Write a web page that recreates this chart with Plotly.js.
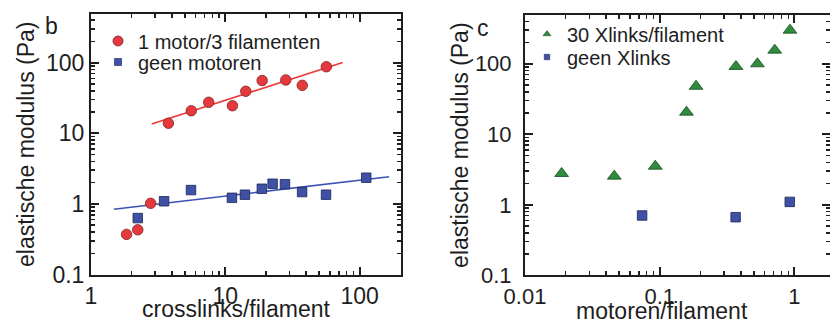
<!DOCTYPE html>
<html>
<head>
<meta charset="utf-8">
<script src="https://cdn.plot.ly/plotly-3.0.1.min.js"></script>
<style>html,body{margin:0;padding:0;background:#fff;overflow:hidden;width:830px;height:320px;}#chart{width:830px;height:340px;}</style>
</head>
<body>
<div id="chart"></div>
<script>
// ---- Panel b data ----
const motorX = [1.84, 2.23, 2.78, 3.77, 5.58, 7.52, 11.3, 14.2, 18.8, 28.2, 37.4, 56.5];
const motorY = [0.37, 0.43, 1.02, 13.9, 20.9, 27.5, 24.6, 39.4, 56, 57, 47.8, 87.7];
const noMotorX = [2.23, 3.5, 5.55, 11.2, 14.0, 18.7, 22.5, 27.8, 37.3, 56.2, 112];
const noMotorY = [0.63, 1.09, 1.57, 1.22, 1.35, 1.64, 1.93, 1.9, 1.47, 1.35, 2.35];
const motorFitX = [2.83, 74.8];
const motorFitY = [13.5, 101];
const noMotorFitX = [1.48, 166];
const noMotorFitY = [0.84, 2.43];
// ---- Panel c data ----
const xlinkX = [0.0187, 0.046, 0.0927, 0.158, 0.186, 0.368, 0.531, 0.714, 0.927];
const xlinkY = [2.78, 2.55, 3.53, 20.6, 48, 91.6, 100, 156, 300];
const noXlinkX = [0.074, 0.366, 0.923];
const noXlinkY = [0.705, 0.667, 1.1];
// ---- labels ----
const seriesNames = ['1 motor/3 filamenten', 'geen motoren', '30 Xlinks/filament', 'geen Xlinks'];
const yTitle = 'elastische modulus (Pa)';
const xTitleB = 'crosslinks/filament';
const xTitleC = 'motoren/filament';
const yTickVals = [0.1, 1, 10, 100];
const yTickText = ['0.1', '1', '10', '100'];
const xTickValsB = [1, 10, 100];
const xTickTextB = ['1', '10', '100'];
const xTickValsC = [0.01, 0.1, 1];
const xTickTextC = ['0.01', '0.1', '1'];

function minorVals(lo, hi) {
  const out = [];
  for (let d = lo; d < hi; d++) for (let m = 2; m <= 9; m++) out.push(m * Math.pow(10, d));
  return out;
}

const RED = '#e5393d', RED_EDGE = '#7d2225';
const BLUE = '#3f51a5', BLUE_EDGE = '#1c2458';
const GREEN = '#2f8b3d', GREEN_EDGE = '#1a4a22';
const INK = '#1e1e1e';
const FONT = 'Liberation Sans, Arial, Helvetica, sans-serif';

const traces = [
  {x: motorFitX, y: motorFitY, mode: 'lines', line: {color: '#ee3a35', width: 1.6}, showlegend: false, xaxis: 'x', yaxis: 'y', hoverinfo: 'skip'},
  {x: noMotorFitX, y: noMotorFitY, mode: 'lines', line: {color: '#3b52b4', width: 1.6}, showlegend: false, xaxis: 'x', yaxis: 'y', hoverinfo: 'skip'},
  {x: noMotorX, y: noMotorY, mode: 'markers', name: seriesNames[1], showlegend: false,
   marker: {symbol: 'square', size: 9.5, color: BLUE, line: {color: BLUE_EDGE, width: 0.8}}, xaxis: 'x', yaxis: 'y'},
  {x: motorX, y: motorY, mode: 'markers', name: seriesNames[0], showlegend: false,
   marker: {symbol: 'circle', size: 10.5, color: RED, line: {color: RED_EDGE, width: 0.8}}, xaxis: 'x', yaxis: 'y'},
  {x: xlinkX, y: xlinkY, mode: 'markers', name: seriesNames[2], showlegend: false,
   marker: {symbol: 'triangle-up', size: 12, color: GREEN, line: {color: GREEN_EDGE, width: 0.8}}, xaxis: 'x2', yaxis: 'y2'},
  {x: noXlinkX, y: noXlinkY, mode: 'markers', name: seriesNames[3], showlegend: false,
   marker: {symbol: 'square', size: 9.5, color: BLUE, line: {color: BLUE_EDGE, width: 0.8}}, xaxis: 'x2', yaxis: 'y2'},
  // legend entries
  {x: [null], y: [null], mode: 'markers', name: seriesNames[0], legend: 'legend',
   marker: {symbol: 'circle', size: 10, color: RED, line: {color: RED_EDGE, width: 0.8}}, xaxis: 'x', yaxis: 'y'},
  {x: [null], y: [null], mode: 'markers', name: seriesNames[1], legend: 'legend2',
   marker: {symbol: 'square', size: 7, color: BLUE, line: {color: BLUE_EDGE, width: 0.6}}, xaxis: 'x', yaxis: 'y'},
  {x: [null], y: [null], mode: 'markers', name: seriesNames[2], legend: 'legend3',
   marker: {symbol: 'triangle-up', size: 7, color: GREEN, line: {color: GREEN_EDGE, width: 0.5}}, xaxis: 'x2', yaxis: 'y2'},
  {x: [null], y: [null], mode: 'markers', name: seriesNames[3], legend: 'legend4',
   marker: {symbol: 'square', size: 5.5, color: BLUE, line: {color: BLUE_EDGE, width: 0.5}}, xaxis: 'x2', yaxis: 'y2'}
];

function axisBase(extra) {
  return Object.assign({
    type: 'log', showgrid: false, zeroline: false, showline: true, linecolor: INK, linewidth: 2,
    mirror: 'ticks', ticks: 'inside', ticklen: 8, tickwidth: 2, tickcolor: INK,
    tickmode: 'array', tickfont: {family: FONT, size: 23, color: INK},
    fixedrange: true
  }, extra);
}

function legendAt(x, y) {
  return {x: x, y: y, xanchor: 'left', yanchor: 'middle', bgcolor: 'rgba(0,0,0,0)', borderwidth: 0,
          font: {family: FONT, size: 20, color: INK}, itemsizing: 'trace', tracegroupgap: 0};
}

// figure drawn 340px tall inside the 320px window; plot geometry is given in window pixels
const W = 830, H = 340;
const titleFont = {family: FONT, size: 23, color: INK};
const layout = {
  width: W, height: H,
  margin: {l: 0, r: 0, t: 0, b: 0},
  paper_bgcolor: '#ffffff', plot_bgcolor: '#ffffff',
  font: {family: FONT, color: INK},
  showlegend: true,
  xaxis: axisBase({
    domain: [91 / W, 401 / W], range: [0, 2.308], anchor: 'y',
    tickvals: xTickValsB, ticktext: xTickTextB,
    minor: {tickmode: 'array', tickvals: minorVals(0, 3), ticks: 'inside', ticklen: 4, tickwidth: 1.5, tickcolor: INK}
  }),
  yaxis: axisBase({
    domain: [1 - 274.5 / H, 1 - 14 / H], range: [-1, 2.69], anchor: 'x',
    tickvals: yTickVals, ticktext: yTickText,
    minor: {tickmode: 'array', tickvals: minorVals(-1, 3), ticks: 'inside', ticklen: 4, tickwidth: 1.5, tickcolor: INK},
    title: {text: yTitle, font: titleFont}
  }),
  xaxis2: axisBase({
    domain: [525 / W, 1], range: [-2, 0.264], anchor: 'y2',
    tickvals: xTickValsC, ticktext: xTickTextC,
    tickfont: {family: FONT, size: 22, color: INK},
    minor: {tickmode: 'array', tickvals: minorVals(-2, 1), ticks: 'inside', ticklen: 4, tickwidth: 1.5, tickcolor: INK}
  }),
  yaxis2: axisBase({
    domain: [1 - 275.3 / H, 1 - 15 / H], range: [-1, 2.692], anchor: 'x2',
    tickvals: yTickVals, ticktext: yTickText,
    tickfont: {family: FONT, size: 22, color: INK},
    ticklabelstandoff: 7,
    minor: {tickmode: 'array', tickvals: minorVals(-1, 3), ticks: 'inside', ticklen: 4, tickwidth: 1.5, tickcolor: INK},
    title: {text: yTitle, font: titleFont}
  }),
  legend: legendAt(98 / W, 1 - 41 / H),
  legend2: legendAt(98 / W, 1 - 62 / H),
  legend3: legendAt(527 / W, 1 - 34 / H),
  legend4: legendAt(527 / W, 1 - 57 / H),
  annotations: [
    {text: xTitleB, xref: 'paper', yref: 'paper', x: 236 / W, y: 1 - 309 / H, xanchor: 'center', yanchor: 'middle',
     showarrow: false, font: titleFont},
    {text: xTitleC, xref: 'paper', yref: 'paper', x: 662 / W, y: 1 - 311 / H, xanchor: 'center', yanchor: 'middle',
     showarrow: false, font: titleFont},
    {text: 'b', xref: 'paper', yref: 'paper', x: 51 / W, y: 1 - 26 / H, xanchor: 'center', yanchor: 'middle',
     showarrow: false, font: {family: FONT, size: 23, color: INK}},
    {text: 'c', xref: 'paper', yref: 'paper', x: 483 / W, y: 1 - 28 / H, xanchor: 'center', yanchor: 'middle',
     showarrow: false, font: {family: FONT, size: 23, color: INK}}
  ]
};

Plotly.newPlot('chart', traces, layout, {displayModeBar: false, staticPlot: true});
</script>
</body>
</html>
